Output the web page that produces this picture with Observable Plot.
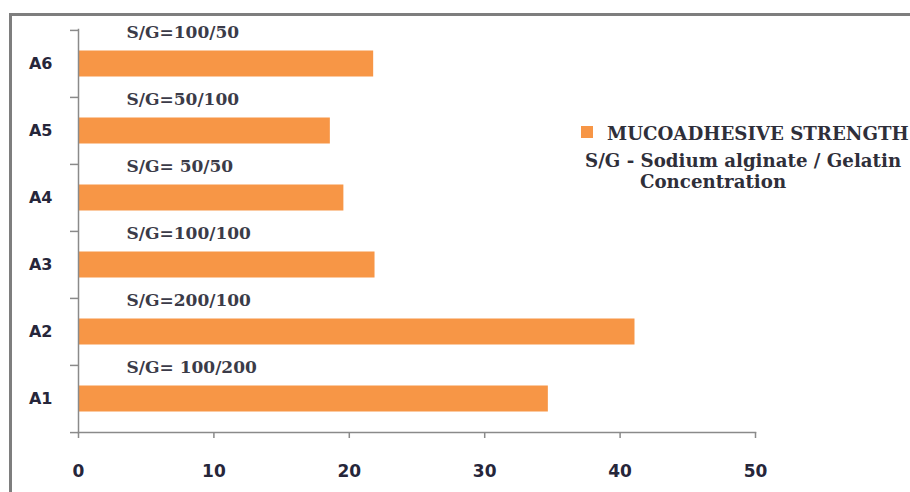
<!DOCTYPE html>
<html>
<head>
<meta charset="utf-8">
<script src="https://cdn.jsdelivr.net/npm/d3@7"></script>
<script src="https://cdn.jsdelivr.net/npm/@observablehq/plot@0.6"></script>
<style>
  html, body { margin: 0; padding: 0; background: #fff; width: 910px; height: 492px; overflow: hidden; }
  #wrap { position: relative; width: 910px; height: 492px; }
  #border { position: absolute; left: 9px; top: 13px; width: 1000px; height: 1000px;
            border-top: 3px solid #7e7e7e; border-left: 3px solid #7e7e7e; box-sizing: border-box; }
  #chart { position: absolute; left: 0; top: 0; }
  #legend { position: absolute; left: 0; top: 0; font-family: "DejaVu Serif", serif; font-weight: bold;
            color: #2f2f3a; font-size: 18.2px; line-height: 21px; }
  #legend .sw { position: absolute; left: 581px; top: 126px; width: 12px; height: 12px; background: #F79646; }
  #legend .l1 { position: absolute; left: 607px; top: 123px; white-space: nowrap; }
  #legend .l2 { position: absolute; left: 585px; top: 150px; white-space: nowrap; }
  #legend .l3 { position: absolute; left: 640px; top: 171px; white-space: nowrap; }
</style>
</head>
<body>
<div id="wrap">
  <div id="border"></div>
  <div id="chart"></div>
  <div id="legend">
    <div class="sw"></div>
    <div class="l1">MUCOADHESIVE STRENGTH</div>
    <div class="l2">S/G - Sodium alginate / Gelatin</div>
    <div class="l3">Concentration</div>
  </div>
</div>
<script>
// Data
const categories = ["A6", "A5", "A4", "A3", "A2", "A1"];
const strength = [21.8, 18.6, 19.6, 21.9, 41.1, 34.7];
const ratioLabels = ["S/G=100/50", "S/G=50/100", "S/G= 50/50", "S/G=100/100", "S/G=200/100", "S/G= 100/200"];
const xTicks = [0, 10, 20, 30, 40, 50];

const data = categories.map((c, i) => ({cat: c, value: strength[i], label: ratioLabels[i]}));

const W = 910, H = 492;
const mTop = 29, mBottom = 60, mLeft = 78, mRight = 155;
const step = (H - mTop - mBottom) / categories.length;
const axisColor = "#8a8a8a";
const textColor = "#26263a";

const plot = Plot.plot({
  width: W,
  height: H,
  marginTop: mTop,
  marginBottom: mBottom,
  marginLeft: mLeft,
  marginRight: mRight,
  style: {background: "transparent", overflow: "visible"},
  x: {domain: [0, 50]},
  y: {domain: categories, padding: 0},
  marks: [
    Plot.barX(data, {x: "value", y: "cat", fill: "#F79646", insetTop: 20.5, insetBottom: 20.5}),
    Plot.text(data, {
      y: "cat", text: "label", frameAnchor: "left", dx: 48, dy: -31,
      fontFamily: "DejaVu Serif", fontWeight: "bold", fontSize: 17, fill: "#3b3b48", textAnchor: "start"
    }),
    // category labels
    Plot.axisY({tickSize: 0, tickPadding: 26, fontSize: 16, fontWeight: "bold", fontFamily: "DejaVu Sans", fill: textColor, label: null}),
    // boundary ticks (top of each band)
    Plot.axisY({tickSize: 8, text: null, label: null, dy: -step / 2, stroke: axisColor, strokeWidth: 1.5}),
    // bottom boundary tick
    Plot.axisY({ticks: [categories[categories.length - 1]], tickSize: 8, text: null, label: null, dy: step / 2, stroke: axisColor, strokeWidth: 1.5}),
    // x axis
    Plot.axisX({ticks: xTicks, tickSize: 6, tickPadding: 26, fontSize: 17, fontWeight: "bold", fontFamily: "DejaVu Sans", fill: textColor, label: null, stroke: axisColor, strokeWidth: 1.5}),
    Plot.frame({anchor: "left", stroke: axisColor, strokeWidth: 1.5}),
    Plot.frame({anchor: "bottom", stroke: axisColor, strokeWidth: 1.5})
  ]
});
document.getElementById("chart").appendChild(plot);
</script>
</body>
</html>
